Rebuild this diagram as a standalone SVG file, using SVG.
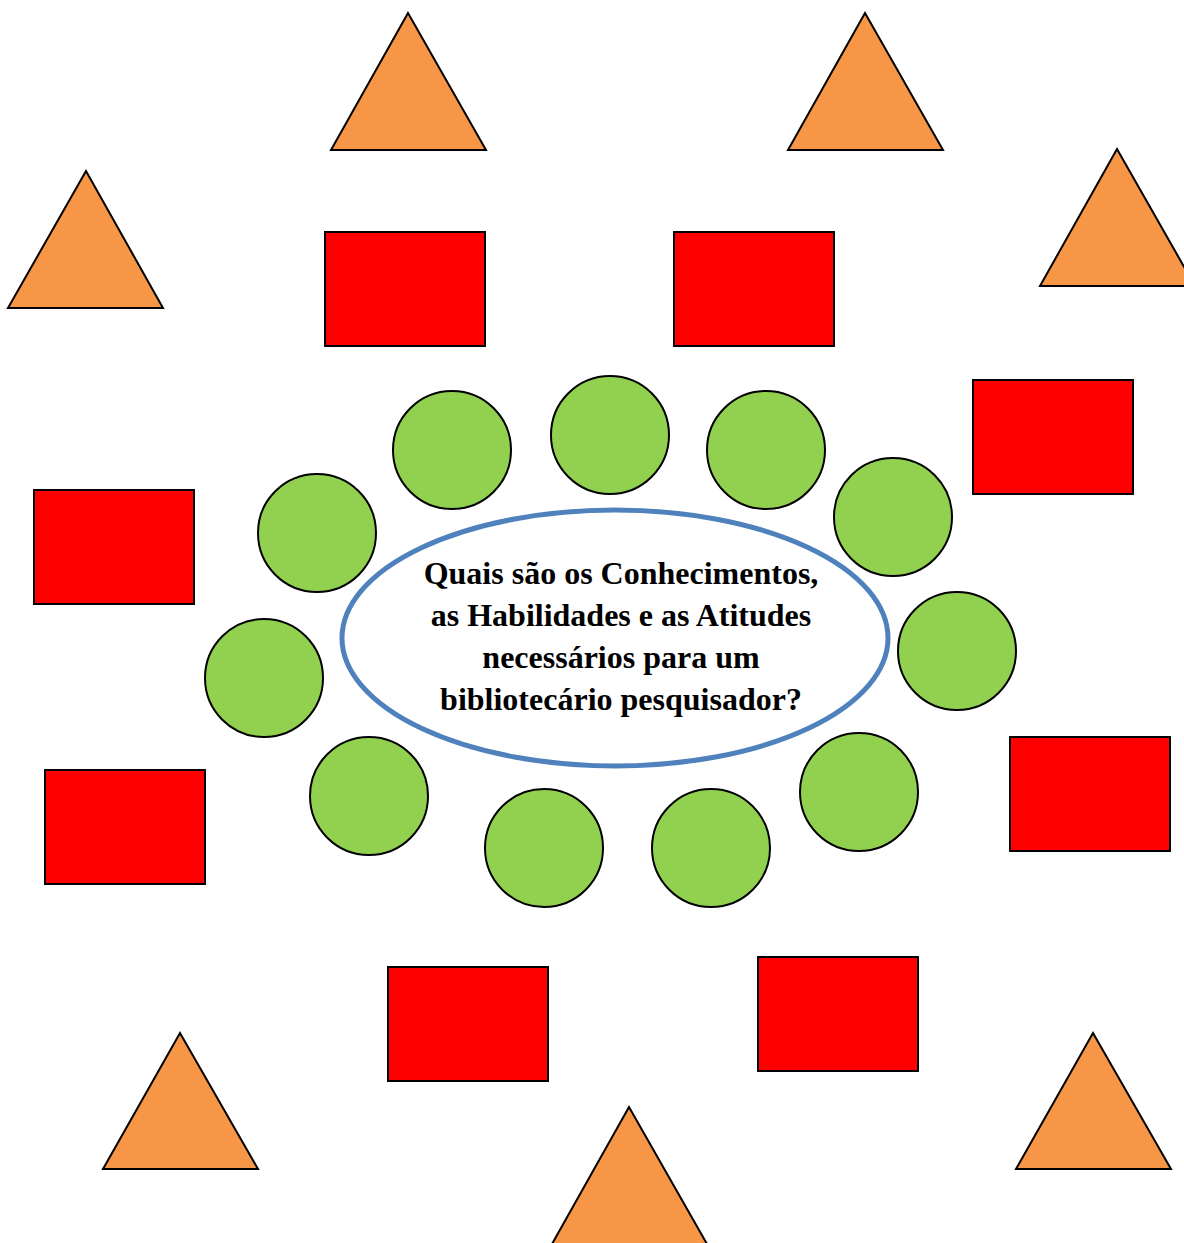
<svg xmlns="http://www.w3.org/2000/svg" width="1184" height="1243" viewBox="0 0 1184 1243">
<style>
.tri{fill:#F79646;stroke:#000;stroke-width:2}
.rect{fill:#FF0000;stroke:#000;stroke-width:2}
.cir{fill:#92D050;stroke:#000;stroke-width:2}
.ell{fill:#fff;stroke:#4F81BD;stroke-width:5}
.t{font-family:"Liberation Serif","Times New Roman",serif;font-weight:bold;font-size:32px;fill:#000;text-anchor:middle}
</style>
<rect width="1184" height="1243" fill="#fff"/>
<g id="triangles">
<polygon id="tri1" class="tri" points="408,13 331,150 486,150"/>
<polygon id="tri2" class="tri" points="865,13 788,150 943,150"/>
<polygon id="tri3" class="tri" points="86,171 8,308 163,308"/>
<polygon id="tri4" class="tri" points="1117,149 1040,286 1195,286"/>
<polygon id="tri5" class="tri" points="180,1033 103,1169 258,1169"/>
<polygon id="tri6" class="tri" points="629,1107 552,1244 707,1244"/>
<polygon id="tri7" class="tri" points="1093,1033 1016,1169 1171,1169"/>
</g>
<g id="rectangles">
<rect id="rect1" class="rect" x="325" y="232" width="160" height="114"/>
<rect id="rect2" class="rect" x="674" y="232" width="160" height="114"/>
<rect id="rect3" class="rect" x="973" y="380" width="160" height="114"/>
<rect id="rect4" class="rect" x="34" y="490" width="160" height="114"/>
<rect id="rect5" class="rect" x="1010" y="737" width="160" height="114"/>
<rect id="rect6" class="rect" x="45" y="770" width="160" height="114"/>
<rect id="rect7" class="rect" x="388" y="967" width="160" height="114"/>
<rect id="rect8" class="rect" x="758" y="957" width="160" height="114"/>
</g>
<g id="circles">
<circle id="c1" class="cir" cx="452" cy="450" r="59"/>
<circle id="c2" class="cir" cx="610" cy="435" r="59"/>
<circle id="c3" class="cir" cx="766" cy="450" r="59"/>
<circle id="c4" class="cir" cx="893" cy="517" r="59"/>
<circle id="c5" class="cir" cx="957" cy="651" r="59"/>
<circle id="c6" class="cir" cx="859" cy="792" r="59"/>
<circle id="c7" class="cir" cx="711" cy="848" r="59"/>
<circle id="c8" class="cir" cx="544" cy="848" r="59"/>
<circle id="c9" class="cir" cx="369" cy="796" r="59"/>
<circle id="c10" class="cir" cx="264" cy="678" r="59"/>
<circle id="c11" class="cir" cx="317" cy="533" r="59"/>
</g>
<g id="center">
<ellipse class="ell" cx="615" cy="638" rx="273" ry="128"/>
<text class="t" x="621" y="584">Quais são os Conhecimentos,</text>
<text class="t" x="621" y="626">as Habilidades e as Atitudes</text>
<text class="t" x="621" y="668">necessários para um</text>
<text class="t" x="621" y="710">bibliotecário pesquisador?</text>
</g>
<g id="connectors"></g>
</svg>
